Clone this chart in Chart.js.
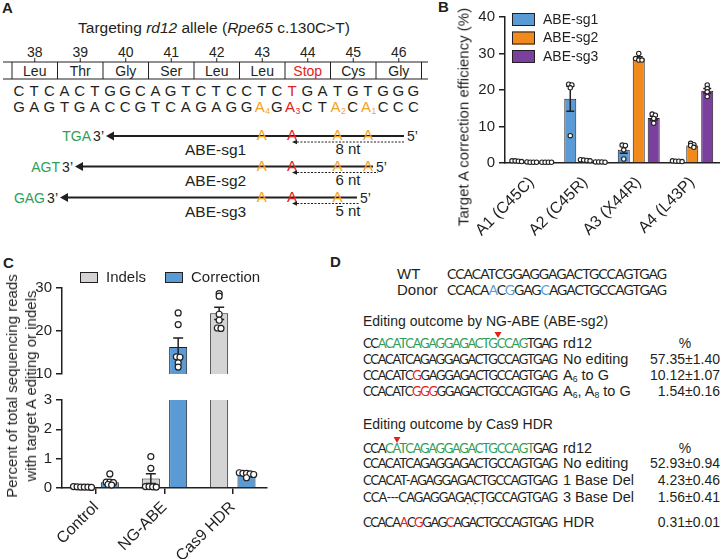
<!DOCTYPE html>
<html>
<head>
<meta charset="utf-8">
<script src="https://cdn.jsdelivr.net/npm/chart.js@4.4.1/dist/chart.umd.min.js"></script>
<style>
  body { margin: 0; width: 726px; height: 559px; background: #fff; position: relative; overflow: hidden;
         font-family: "Liberation Sans", Arial, sans-serif; color: #231f20; }
  canvas, svg, .ttl { position: absolute; }
  .ttl { font-size: 15px; white-space: nowrap; text-align: center; line-height: 19px;
         transform: translate(-50%, -50%) rotate(-90deg); }
</style>
</head>
<body>
<svg id="art" width="726" height="559" style="left:0;top:0"></svg>
<canvas id="chartB" width="346" height="290" style="left:380px;top:0"></canvas>
<canvas id="chartCtop" width="300" height="125" style="left:0;top:262px"></canvas>
<canvas id="chartCbot" width="300" height="172" style="left:0;top:387px"></canvas>
<div class="ttl" style="left:463px;top:117px">Target A correction efficiency (%)</div>
<div class="ttl" style="left:21px;top:386px">Percent of total sequencing reads<br>with target A editing or indels</div>
<script>
const INK = "#231f20";
const SANS = "Liberation Sans, Arial, sans-serif";
const SEQF = "Lato, 'Open Sans', sans-serif";
const GREEN = "#2f9e58", RED = "#e2231a", ORANGE = "#f4a21f", LBLUE = "#5b9bd5";

////////////////////////////// panel A (sequence map)
const codonNums = ["38", "39", "40", "41", "42", "43", "44", "45", "46"];
const aminoAcids = ["Leu", "Thr", "Gly", "Ser", "Leu", "Leu", "Stop", "Cys", "Gly"];
const topStrand = "CTCACTGGCAGTCTCCTCTGATGTGGG";
const topRed = [18];
const botStrand = "GAGTGACCGTCAGAGGAGACTACACCC";
const botOrange = [16, 21, 23];
const botRed = [18];
const botSubs = { 16: "4", 18: "3", 21: "2", 23: "1" };
const guideNames = ["ABE-sg1", "ABE-sg2", "ABE-sg3"];
const guidePam = ["TGA", "AGT", "GAG"];
const guideDist = ["8 nt", "6 nt", "5 nt"];
const guideSites = [[16, 18, 21, 23], [16, 18, 21, 23], [16, 18, 21]];

////////////////////////////// panel B (target A correction)
const targetLabels = ["A1 (C45C)", "A2 (C45R)", "A3 (X44R)", "A4 (L43P)"];
const sg1Mean = [0.5, 17.6, 3.6, 0.5];
const sg2Mean = [0.2, 0.8, 28.7, 4.8];
const sg3Mean = [0.2, 0.3, 12.3, 19.8];
const sg1Sem = [0.05, 3.4, 0.9, 0.05];
const sg2Sem = [0.03, 0.1, 0.4, 0.3];
const sg3Sem = [0.02, 0.03, 0.5, 0.6];
const sg1Pts = [[0.6, 0.5, 0.4, 0.6], [21.6, 21.4, 20.6, 7.5], [4.9, 4.8, 3.6, 1.1], [0.6, 0.5, 0.4, 0.5]];
const sg2Pts = [[0.2, 0.2, 0.3, 0.2], [0.8, 0.9, 0.7, 0.6], [30.0, 28.6, 28.2, 28.2], [5.4, 5.0, 4.8, 4.3]];
const sg3Pts = [[0.2, 0.2, 0.2, 0.2], [0.3, 0.3, 0.2, 0.3], [13.4, 13.1, 12.2, 10.9], [21.4, 20.4, 19.5, 18.2]];

////////////////////////////// panel C (indels vs correction, broken axis)
const groupLabels = ["Control", "NG-ABE", "Cas9 HDR"];
const indelsMean = [0.03, 0.32, 24.1];
const indelsSem = [0.005, 0.17, 1.4];
const corrMean = [0.2, 16.3, 0.44];
const corrSem = [0.06, 2.1, 0.03];
const indelsPts = [[0.04, 0.03, 0.05, 0.03, 0.02, 0.03], [1.07, 0.67, 0.05, 0.04, 0.05, 0.03], [28.7, 28.1, 23.9, 22.5, 20.7, 20.6]];
const corrPts = [[0.48, 0.2, 0.18, 0.2, 0.1, 0.12], [24.2, 21.5, 14.0, 13.9, 12.6, 11.6], [0.52, 0.5, 0.48, 0.5, 0.46, 0.35]];

////////////////////////////// panel D (editing outcomes)
const wtSeq = "CCACATCGGAGGAGACTGCCAGTGAG";
const donorSeq = "CCACAACGGAGCAGACTGCCAGTGAG";
const donorBlue = [5, 7, 11];
const ngSeqs = ["CCACATCAGAGGAGACTGCCAGTGAG", "CCACATCAGAGGAGACTGCCAGTGAG", "CCACATCGGAGGAGACTGCCAGTGAG", "CCACATCGGGGGAGACTGCCAGTGAG"];
const ngGreen = [[2, 22], null, null, null];
const ngRed = [[], [], [7], [7, 8, 9]];
const ngNames = [[["rd12"]], [["No editing"]], [["A"], ["6", 1], [" to G"]], [["A"], ["6", 1], [", A"], ["8", 1], [" to G"]]];
const ngPct = ["%", "57.35±1.40", "10.12±1.07", "1.54±0.16"];
const hdrSeqs = ["CCACATCAGAGGAGACTGCCAGTGAG", "CCACATCAGAGGAGACTGCCAGTGAG", "CCACAT-AGAGGAGACTGCCAGTGAG", "CCA---CAGAGGAGACTGCCAGTGAG", "CCACAACGGAGCAGACTGCCAGTGAG"];
const hdrGreen = [[3, 23], null, null, null, null];
const hdrRed = [[], [], [], [], [5, 7, 11]];
const hdrNames = [[["rd12"]], [["No editing"]], [["1 Base Del"]], [["3 Base Del"]], [["HDR"]]];
const hdrPct = ["%", "52.93±0.94", "4.23±0.46", "1.56±0.41", "0.31±0.01"];

////////////////////////////// svg helpers
const svg = document.getElementById("art");
const NS = "http://www.w3.org/2000/svg";
function el(tag, attrs, parent) {
  const e = document.createElementNS(NS, tag);
  for (const k in attrs) e.setAttribute(k, attrs[k]);
  (parent || svg).appendChild(e);
  return e;
}
function txt(x, y, s, o) {
  o = o || {};
  const t = el("text", { x: x, y: y, "font-size": o.size || 14, fill: o.color || INK,
    "text-anchor": o.anchor || "start", "font-family": o.font || SANS, "font-weight": o.weight || "normal" });
  t.textContent = s;
  return t;
}
function line(x1, y1, x2, y2, w, dash) {
  const a = { x1: x1, y1: y1, x2: x2, y2: y2, stroke: INK, "stroke-width": w || 1 };
  if (dash) a["stroke-dasharray"] = dash;
  return el("line", a);
}
function tri(pts, color) {
  return el("polygon", { points: pts.map(p => p.join(",")).join(" "), fill: color || INK });
}
// sequence with coloured runs squeezed to a fixed width
function seqText(x, y, s, colorAt, size, len) {
  const t = el("text", { x: x, y: y, "font-family": SEQF, "font-size": size, textLength: len, lengthAdjust: "spacing" });
  let i = 0;
  while (i < s.length) {
    const c = colorAt(i);
    let j = i;
    while (j < s.length && colorAt(j) === c) j++;
    el("tspan", { fill: c }, t).textContent = s.slice(i, j);
    i = j;
  }
}
// label with subscripts
function richText(x, y, parts, size) {
  const t = el("text", { x: x, y: y, "font-size": size, "font-family": SANS, fill: INK });
  let sub = false;
  parts.forEach(p => {
    const isSub = !!p[1];
    const a = {};
    if (isSub && !sub) a.dy = 2;
    if (!isSub && sub) a.dy = -2;
    if (isSub) a["font-size"] = size * 0.6;
    el("tspan", a, t).textContent = p[0];
    sub = isSub;
  });
}

////////////////////////////// draw panel A
txt(2, 13, "A", { size: 15, weight: "bold" });
const ttl = el("text", { x: 214, y: 33, "font-size": 15.5, "text-anchor": "middle", "font-family": SANS, fill: INK });
[["Targeting "], ["rd12", 1], [" allele ("], ["Rpe65", 1], [" c.130C>T)"]].forEach(p => {
  el("tspan", p[1] ? { "font-style": "italic" } : {}, ttl).textContent = p[0];
});
const boxL = 12, codW = 45.5;
line(3, 62, 428, 62); line(3, 79, 428, 79);
for (let k = 0; k <= aminoAcids.length; k++) line(boxL + k * codW, 62, boxL + k * codW, 79);
aminoAcids.forEach((aa, k) => {
  const cx = boxL + (k + 0.5) * codW;
  txt(cx, 57, codonNums[k], { anchor: "middle" });
  line(cx, 58, cx, 62);
  txt(cx, 76, aa, { anchor: "middle", color: aa === "Stop" ? RED : INK });
});
const baseX = i => 19 + i * 15.17;
for (let i = 0; i < topStrand.length; i++) {
  txt(baseX(i), 96, topStrand[i], { size: 15, anchor: "middle", color: topRed.includes(i) ? RED : INK });
  const bc = botRed.includes(i) ? RED : botOrange.includes(i) ? ORANGE : INK;
  txt(baseX(i) - (botSubs[i] ? 2 : 0), 112, botStrand[i], { size: 15, anchor: "middle", color: bc });
  if (botSubs[i]) txt(baseX(i) + 3.5, 114, botSubs[i], { size: 8.5, color: bc });
}
const guideY = [136, 166.5, 197.5];
const guideTip = [106, 75, 60];
const guideEnd = [404, 373, 357];
const dashEnd = [405, 378, 360];
guideNames.forEach((name, g) => {
  const y = guideY[g], tip = guideTip[g];
  line(tip + 5, y, guideEnd[g], y, 2);
  tri([[tip, y], [tip + 8, y - 4.5], [tip + 8, y + 4.5]]);
  txt(tip - 2, y + 5, "3’", { anchor: "end" });
  txt(tip - 15, y + 5, guidePam[g], { anchor: "end", color: GREEN });
  txt(guideEnd[g] + 3, y + 5, "5’");
  guideSites[g].forEach(s => {
    txt(baseX(s), y + 4, "A", { size: 15, anchor: "middle", color: botRed.includes(s) ? RED : ORANGE });
  });
  line(297, y + 6, dashEnd[g], y + 6, 1, "2,1.5");
  tri([[292, y + 6], [297, y + 3.8], [297, y + 8.2]]);
  txt(348, y + 18, guideDist[g], { size: 15, anchor: "middle" });
  txt(185, y + 19, name, { size: 15.5 });
});

////////////////////////////// draw panel D
txt(438, 12, "B", { size: 15, weight: "bold" });
txt(3, 268, "C", { size: 15, weight: "bold" });
txt(330, 267, "D", { size: 15, weight: "bold" });
txt(397, 279, "WT", { size: 15 });
seqText(447, 279, wtSeq, () => INK, 14, 220);
txt(397, 295, "Donor", { size: 15 });
seqText(447, 295, donorSeq, i => donorBlue.includes(i) ? LBLUE : INK, 14, 220);

function block(titleY, title, baselines, seqs, greens, reds, names, pcts) {
  txt(363, titleY, title, { size: 14 });
  seqs.forEach((s, r) => {
    const gr = greens[r];
    seqText(363, baselines[r], s, i => reds[r].includes(i) ? RED : (gr && i >= gr[0] && i < gr[1] ? GREEN : INK), 13, 195);
    richText(563, baselines[r], names[r], 14.5);
    if (pcts[r] === "%") txt(685, baselines[r], "%", { size: 14, anchor: "middle" });
    else txt(720, baselines[r], pcts[r], { size: 14, anchor: "end" });
  });
}
block(326, "Editing outcome by NG-ABE (ABE-sg2)", [348, 364, 380, 396], ngSeqs, ngGreen, ngRed, ngNames, ngPct);
block(429, "Editing outcome by Cas9 HDR", [453, 468, 485, 502, 527], hdrSeqs, hdrGreen, hdrRed, hdrNames, hdrPct);
txt(475, 507, "· · ·", { size: 12, anchor: "middle" });
tri([[494.5, 332], [501.5, 332], [498, 338]], RED);
tri([[393.5, 437], [400.5, 437], [397, 443]], RED);

////////////////////////////// chart.js helpers
Chart.defaults.font.family = "Liberation Sans, Arial, sans-serif";
Chart.defaults.color = INK;

// dots with (nearly) the same value are put side by side, overlapping a little
function swarm(vals, ys, cx, step) {
  const pts = vals.map(v => ({ y: ys.getPixelForValue(v) })).sort((a, b) => a.y - b.y);
  const out = [];
  let grp = [];
  const flush = () => {
    grp.forEach((p, k) => out.push([cx + (k - (grp.length - 1) / 2) * step, p.y]));
    grp = [];
  };
  pts.forEach(p => {
    if (grp.length && p.y - grp[0].y > 2) flush();
    grp.push(p);
  });
  flush();
  return out;
}

const marks = {
  id: "marks",
  afterDatasetsDraw(chart, args, o) {
    const ctx = chart.ctx, ys = chart.scales.y;
    const lo = ys.min, hi = ys.max;
    chart.data.datasets.forEach((ds, di) => {
      chart.getDatasetMeta(di).data.forEach((bar, i) => {
        const m = ds.data[i], e = ds.sem[i];
        ctx.save();
        ctx.strokeStyle = INK;
        ctx.lineWidth = o.lw;
        if (m >= lo && m <= hi) {
          const y1 = ys.getPixelForValue(Math.min(m + e, hi));
          const y0 = ys.getPixelForValue(Math.max(m - e, lo));
          ctx.beginPath();
          ctx.moveTo(bar.x, y0); ctx.lineTo(bar.x, y1);
          ctx.moveTo(bar.x - o.cap, y1); ctx.lineTo(bar.x + o.cap, y1);
          ctx.moveTo(bar.x - o.cap, y0); ctx.lineTo(bar.x + o.cap, y0);
          ctx.stroke();
        }
        const vis = ds.points[i].filter(v => v >= lo && v <= hi);
        ctx.lineWidth = o.plw;
        swarm(vis, ys, bar.x, o.step).forEach(p => {
          ctx.beginPath();
          ctx.arc(p[0], p[1], o.r, 0, Math.PI * 2);
          ctx.fillStyle = "#fff";
          ctx.fill();
          ctx.stroke();
        });
        ctx.restore();
      });
    });
  }
};

const boxLegend = {
  id: "boxLegend",
  afterDraw(chart, args, o) {
    if (!o.x) return;
    const ctx = chart.ctx;
    ctx.save();
    ctx.font = o.size + "px Liberation Sans, Arial, sans-serif";
    ctx.textBaseline = "middle";
    chart.data.datasets.forEach((ds, i) => {
      const x = o.x[i], y = o.y[i];
      ctx.fillStyle = ds.backgroundColor;
      ctx.fillRect(x, y, o.w, o.h);
      ctx.strokeStyle = INK;
      ctx.lineWidth = 1;
      ctx.strokeRect(x + 0.5, y + 0.5, o.w - 1, o.h - 1);
      ctx.fillStyle = INK;
      ctx.fillText(ds.label, x + o.w + o.gap, y + o.h / 2 + 0.5);
    });
    ctx.restore();
  }
};

function yAxis(min, max, step, width) {
  return {
    min: min, max: max,
    ticks: { stepSize: step, color: INK, font: { size: 15 }, padding: 4 },
    grid: { drawOnChartArea: false, color: INK, lineWidth: 1.5, tickLength: 6 },
    border: { color: INK, width: 1.5 },
    afterFit: s => { s.width = width; }
  };
}

////////////////////////////// chart B
new Chart(document.getElementById("chartB"), {
  type: "bar",
  data: {
    labels: targetLabels,
    datasets: [
      { label: "ABE-sg1", data: sg1Mean, sem: sg1Sem, points: sg1Pts, backgroundColor: LBLUE },
      { label: "ABE-sg2", data: sg2Mean, sem: sg2Sem, points: sg2Pts, backgroundColor: "#f08a1d" },
      { label: "ABE-sg3", data: sg3Mean, sem: sg3Sem, points: sg3Pts, backgroundColor: "#7b3f9e" }
    ]
  },
  options: {
    responsive: false,
    animation: false,
    layout: { padding: { top: 17, right: 7, left: 0, bottom: 0 } },
    datasets: { bar: { categoryPercentage: 0.84, barPercentage: 0.8, borderColor: INK, borderWidth: 1 } },
    plugins: {
      legend: { display: false },
      tooltip: { enabled: false },
      marks: { lw: 1.5, cap: 4, r: 2.2, plw: 1.1, step: 3.2 },
      boxLegend: { x: [132, 132, 132], y: [13, 31.5, 50], w: 23, h: 13, gap: 8, size: 14 }
    },
    scales: {
      x: {
        grid: { display: false, drawTicks: false },
        border: { color: INK, width: 1.5 },
        ticks: { minRotation: 45, maxRotation: 45, color: INK, font: { size: 16 }, padding: 10 },
        afterFit: s => { s.height = 127; }
      },
      y: yAxis(0, 40, 10, 125)
    }
  },
  plugins: [marks, boxLegend]
});

////////////////////////////// chart C (two pieces of the broken axis)
function cData() {
  return {
    labels: groupLabels,
    datasets: [
      { label: "Indels", data: indelsMean, sem: indelsSem, points: indelsPts, backgroundColor: "#d4d4d4" },
      { label: "Correction", data: corrMean, sem: corrSem, points: corrPts, backgroundColor: LBLUE }
    ]
  };
}
const cBar = { bar: { categoryPercentage: 0.8, barPercentage: 0.66, borderColor: INK, borderWidth: 1 } };
const cMarks = { lw: 1.5, cap: 5, r: 3, plw: 1.2, step: 3.6 };

new Chart(document.getElementById("chartCtop"), {
  type: "bar",
  data: cData(),
  options: {
    responsive: false,
    animation: false,
    layout: { padding: { top: 26, right: 33, left: 0, bottom: 7 } },
    datasets: cBar,
    plugins: {
      legend: { display: false },
      tooltip: { enabled: false },
      marks: cMarks,
      boxLegend: { x: [80, 165], y: [10, 10], w: 18, h: 11, gap: 8, size: 15 }
    },
    scales: {
      x: { display: false },
      y: yAxis(10, 30, 10, 62)
    }
  },
  plugins: [marks, boxLegend]
});

new Chart(document.getElementById("chartCbot"), {
  type: "bar",
  data: cData(),
  options: {
    responsive: false,
    animation: false,
    layout: { padding: { top: 9, right: 33, left: 0, bottom: 0 } },
    datasets: cBar,
    plugins: {
      legend: { display: false },
      tooltip: { enabled: false },
      marks: cMarks,
      boxLegend: {}
    },
    scales: {
      x: {
        grid: { display: true, drawOnChartArea: false, offset: false, color: INK, lineWidth: 1.5, tickLength: 6 },
        border: { color: INK, width: 1.5 },
        ticks: { minRotation: 45, maxRotation: 45, color: INK, font: { size: 16 }, padding: 4 },
        afterFit: s => { s.height = 71; }
      },
      y: yAxis(0, 3, 1, 62)
    }
  },
  plugins: [marks, boxLegend]
});
</script>
</body>
</html>
